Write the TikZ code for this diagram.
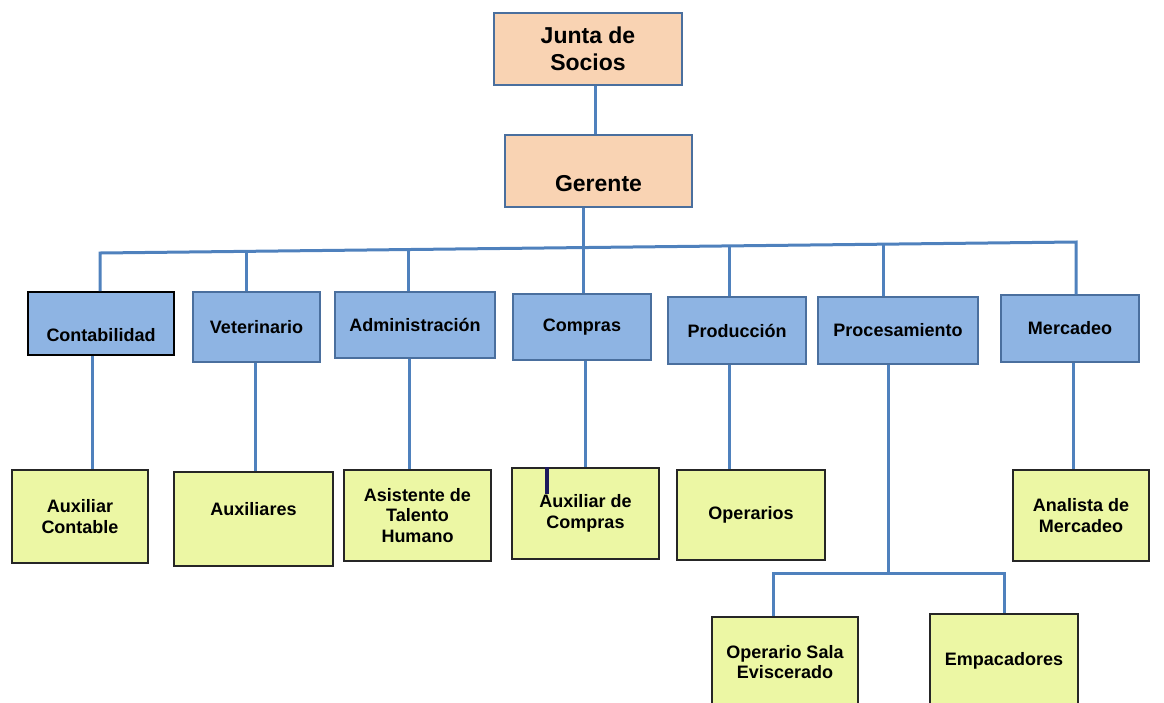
\documentclass[tikz,border=0pt]{standalone}
\usepackage{fontspec}
\setmainfont{Liberation Sans}
\usetikzlibrary{calc}

\definecolor{durazno}{HTML}{F9D3B3}
\definecolor{azulcaja}{HTML}{8EB4E3}
\definecolor{verdecaja}{HTML}{ECF7A4}
\definecolor{bordeazul}{HTML}{4A6F9E}
\definecolor{azullinea}{HTML}{4F81BD}
\definecolor{marino}{HTML}{1C1A5C}

\tikzset{
	directivo/.style={draw=bordeazul, line width=1.3pt, fill=durazno, inner sep=0pt, align=center, font=\fontsize{23}{27}\selectfont\bfseries},
	area/.style={draw=bordeazul, line width=1.3pt, fill=azulcaja, inner sep=0pt, align=center, font=\fontsize{18}{20.5}\selectfont\bfseries},
	cargo/.style={draw=black!85, line width=1.5pt, fill=verdecaja, inner sep=0pt, align=center, font=\fontsize{18}{20.5}\selectfont\bfseries},
	conector/.style={draw=azullinea, line width=3pt}
}

\begin{document}
\begin{tikzpicture}[x=1pt, y=-1pt]
		\useasboundingbox (0,0) rectangle (1164,702);

		% nivel directivo
		\node [directivo, minimum width=188pt, minimum height=72pt] (junta) at (588,49) {Junta de\\Socios};
		\node [directivo, minimum width=187pt, minimum height=72pt, text height=40pt, text depth=0pt] (gerente) at (598.5,171) {Gerente};

		% areas
		\node [area, draw=black, line width=1.8pt, minimum width=146pt, minimum height=63pt, text height=35pt, text depth=0pt] (conta) at (101,323.5) {Contabilidad};
		\node [area, minimum width=127pt, minimum height=70pt] (veter) at (256.5,327) {Veterinario};
		\node [area, minimum width=160pt, minimum height=66pt] (admin) at (415,325) {Administración};
		\node [area, minimum width=138pt, minimum height=66pt] (compras) at (582,327) {Compras};
		\node [area, minimum width=138pt, minimum height=67pt] (produc) at (737,330.5) {Producción};
		\node [area, minimum width=160pt, minimum height=67pt] (proces) at (898,330.5) {Procesamiento};
		\node [area, minimum width=138pt, minimum height=67pt] (mercad) at (1070,328.5) {Mercadeo};

		% cargos
		\node [cargo, minimum width=136pt, minimum height=93pt] (auxcont) at (80,516.5) {Auxiliar\\Contable};
		\node [cargo, minimum width=159pt, minimum height=94pt, text height=0pt, text depth=7pt] (auxil) at (253.5,519) {Auxiliares};
		\node [cargo, minimum width=147pt, minimum height=91pt] (asist) at (417.5,515.5) {Asistente de\\Talento\\Humano};
		\node [cargo, minimum width=147pt, minimum height=91pt] (auxcomp) at (585.5,513.5) {Auxiliar de\\Compras};
		\node [cargo, minimum width=148pt, minimum height=90pt] (operar) at (751,515) {Operarios};
		\node [cargo, minimum width=136pt, minimum height=91pt] (analis) at (1081,515.5) {Analista de\\Mercadeo};
		\node [cargo, minimum width=146pt, minimum height=90pt] (opsala) at (785,662) {Operario Sala\\Eviscerado};
		\node [cargo, minimum width=148pt, minimum height=93pt] (empaca) at (1004,660.5) {Empacadores};

		% junta -> gerente
		\draw [conector] ([xshift=7pt]junta.south) -- ([xshift=7pt]junta.south |- gerente.north);

		% barra de areas
		\coordinate (b1) at (100,253);
		\coordinate (b2) at (246,251.4);
		\coordinate (b3) at (408,249.5);
		\coordinate (b4) at (583,247.6);
		\coordinate (b5) at (729,245.9);
		\coordinate (b6) at (883,244.2);
		\coordinate (b7) at (1076,242);
		\draw [conector] (b1 |- conta.north) -- (b1) -- (b7) -- (b7 |- mercad.north);
		\draw [conector] (b4 |- gerente.south) -- (b4 |- compras.north);
		\foreach \b/\n in {b2/veter, b3/admin, b5/produc, b6/proces}
			\draw [conector] (\b) -- (\b |- \n.north);

		% areas -> cargos
		\foreach \n/\m/\dx in {conta/auxcont/-9, veter/auxil/-1.5, admin/asist/-6, compras/auxcomp/3, produc/operar/-8, mercad/analis/3}
			\draw [conector] ([xshift=\dx pt]\n.south) -- ([xshift=\dx pt]\n.south |- \m.north);

		% procesamiento
		\coordinate (sb) at (888,573);
		\coordinate (sbi) at (773,573);
		\coordinate (sbd) at (1004,573);
		\draw [conector] (sb |- proces.south) -- (sb);
		\draw [conector] (sbi |- opsala.north) -- (sbi) -- (sbd) -- (sbd |- empaca.north);

		% marca en auxiliar de compras
		\draw [marino, line width=3.5pt] ([xshift=-38.5pt]auxcomp.north) -- ++(0,27);
\end{tikzpicture}
\end{document}
